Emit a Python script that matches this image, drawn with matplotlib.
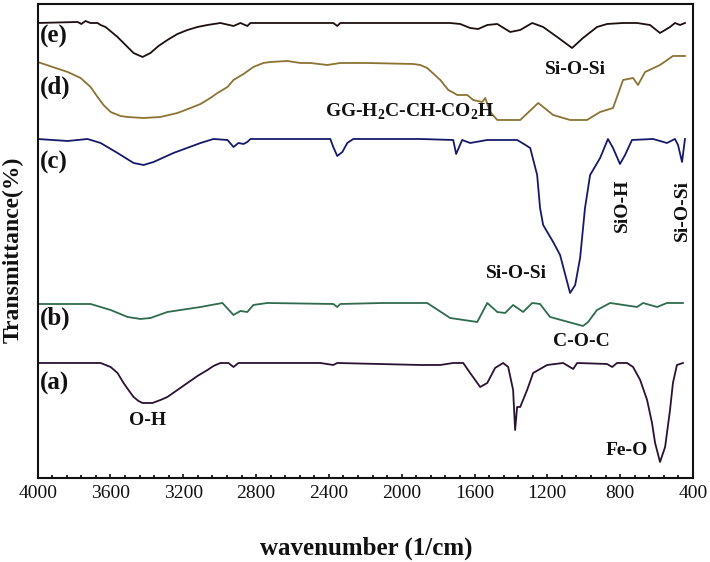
"""
FTIR spectra of the five samples, stacked (a)-(e).
"""

import numpy as np
import matplotlib
matplotlib.use('Agg')
import matplotlib.pyplot as plt
from matplotlib.ticker import MultipleLocator

# Colours
COL_A = '#2a1232'
COL_B = '#2f6b4f'
COL_C = '#16196a'
COL_D = '#8c7334'
COL_E = '#1e0f0f'
INK   = '#111111'

plt.rcParams['font.family'] = ['Liberation Serif', 'DejaVu Serif']
plt.rcParams['mathtext.fontset'] = 'custom'
plt.rcParams['mathtext.rm'] = 'Liberation Serif:bold'

# Spectra: wavenumber [1/cm] and transmittance [a.u., stacked]
wn_e = [4000, 3780, 3760, 3737, 3710, 3671, 3654, 3627, 3561, 3517, 3473, 3424,
        3380, 3336, 3287, 3232, 3177, 3122, 3067, 2996, 2924, 2886, 2848, 2831,
        2376, 2354, 2337, 1734, 1679, 1624, 1580, 1530, 1475, 1404, 1349, 1283,
        1223, 1146, 1064, 1004, 927, 872, 784, 707, 636, 581, 526, 499, 471, 444]
t_e = [455, 456, 454, 457, 455, 455, 453, 451, 441, 433, 425, 421,
       425, 432, 438, 444, 448, 451, 453, 455, 452, 455, 452, 455,
       455, 452, 455, 455, 454, 450, 449, 453, 454, 446, 448, 455,
       451, 441, 430, 440, 451, 454, 455, 455, 453, 445, 451, 455, 453, 455]

wn_d = [4000, 3835, 3764, 3709, 3671, 3638, 3599, 3545, 3506, 3418, 3325, 3232,
        3160, 3105, 3051, 3012, 2957, 2924, 2869, 2815, 2760, 2721, 2628, 2557,
        2502, 2409, 2338, 2189, 1937, 1898, 1860, 1788, 1744, 1723, 1695, 1640,
        1607, 1558, 1541, 1514, 1475, 1349, 1250, 1168, 1075, 982, 910, 839,
        784, 729, 702, 663, 581, 510, 444]
t_d = [416, 406, 400, 391, 381, 373, 366, 362, 361, 360, 361, 365,
       370, 374, 380, 385, 391, 398, 404, 411, 415, 416, 417, 415,
       415, 413, 415, 415, 414, 413, 410, 398, 388, 386, 383, 383,
       378, 376, 380, 366, 358, 358, 375, 363, 358, 358, 366, 370,
       398, 400, 393, 406, 413, 422, 422]

wn_c = [4000, 3835, 3726, 3654, 3561, 3473, 3418, 3363, 3254, 3105, 3034, 2957,
        2924, 2897, 2869, 2848, 2831, 2392, 2376, 2354, 2326, 2299, 2266, 1898,
        1717, 1701, 1668, 1624, 1530, 1366, 1338, 1294, 1256, 1240, 1223, 1168,
        1130, 1091, 1075, 1047, 1020, 993, 965, 910, 867, 839, 801, 773,
        735, 619, 543, 499, 482, 460, 444]
t_c = [339, 337, 339, 335, 325, 315, 313, 316, 325, 335, 339, 338,
       331, 335, 334, 336, 339, 339, 331, 322, 326, 335, 339, 339,
       338, 324, 338, 335, 338, 338, 335, 330, 303, 270, 253, 236,
       223, 196, 185, 193, 220, 270, 303, 320, 339, 330, 314, 323,
       338, 339, 335, 339, 333, 316, 339]

wn_b = [4000, 3709, 3599, 3506, 3435, 3380, 3287, 3105, 2985, 2924, 2886, 2848,
        2815, 2738, 2376, 2354, 2337, 2101, 1860, 1734, 1585, 1530, 1475, 1432,
        1388, 1333, 1283, 1240, 1185, 1004, 976, 927, 855, 707, 674, 597,
        543, 455]
t_b = [174, 174, 168, 161, 159, 160, 166, 171, 175, 163, 167, 166,
       173, 175, 174, 171, 174, 175, 175, 160, 156, 175, 166, 165,
       173, 166, 175, 174, 161, 152, 156, 168, 175, 171, 175, 171,
       175, 175]

wn_a = [4000, 3709, 3654, 3599, 3561, 3528, 3501, 3473, 3446, 3424, 3369, 3325,
        3287, 3232, 3177, 3122, 3067, 3034, 2996, 2952, 2924, 2897, 2447, 2376,
        2354, 1898, 1788, 1717, 1662, 1624, 1569, 1530, 1487, 1443, 1415, 1388,
        1377, 1366, 1349, 1311, 1278, 1201, 1113, 1058, 1036, 872, 844, 817,
        762, 729, 690, 652, 625, 608, 581, 553, 526, 510, 488, 455]
t_a = [115, 115, 115, 111, 105, 95, 88, 81, 77, 75, 75, 78,
       81, 88, 95, 102, 108, 112, 115, 115, 111, 115, 115, 113,
       115, 113, 113, 115, 115, 105, 91, 95, 110, 115, 111, 88,
       48, 71, 71, 88, 105, 113, 115, 109, 115, 114, 111, 115,
       115, 111, 98, 78, 55, 35, 16, 31, 68, 95, 113, 115]

# Curve tags and band assignments
tag_text = ['(e)', '(d)', '(c)', '(b)', '(a)']
tag_y = [442, 391, 316, 160, 95]

band_text = ['Si-O-Si', 'GG-H$_2$C-CH-CO$_2$H', 'Si-O-Si', 'SiO-H', 'Si-O-Si',
             'C-O-C', 'O-H', 'Fe-O']
band_x = [1047, 1958, 1371, 789, 460, 1014, 3396, 762]
band_y = [408, 366, 204, 273, 267, 136, 57, 27]
band_rot = [0, 0, 0, 90, 90, 0, 0, 0]


def style_ax(ax):
    for sp in ax.spines.values():
        sp.set_color(INK)
        sp.set_linewidth(1.5)
    ax.set_xlim(4000, 400)
    ax.set_ylim(0, 474)
    ax.xaxis.set_major_locator(MultipleLocator(400))
    ax.xaxis.set_minor_locator(MultipleLocator(80))
    ax.tick_params(axis='x', which='major', direction='in', length=3, width=1.2,
                   labelsize=14, pad=5, colors=INK, top=False)
    ax.tick_params(axis='x', which='minor', direction='in', length=2, width=1.2,
                   top=False)
    ax.set_yticks([])


def generate_plot():
    fig = plt.figure(figsize=(7.1, 5.62), dpi=100, facecolor='white')
    ax = fig.add_axes([0.053, 0.1495, 0.923, 0.8434])
    style_ax(ax)

    ax.plot(wn_e, t_e, color=COL_E, lw=1.3)
    ax.plot(wn_d, t_d, color=COL_D, lw=1.3)
    ax.plot(wn_c, t_c, color=COL_C, lw=1.3)
    ax.plot(wn_b, t_b, color=COL_B, lw=1.3)
    ax.plot(wn_a, t_a, color=COL_A, lw=1.3)

    for txt, y in zip(tag_text, tag_y):
        ax.text(3985, y, txt, ha='left', va='center', fontsize=18,
                fontweight='bold', color=INK)

    for txt, x, y, r in zip(band_text, band_x, band_y, band_rot):
        ax.text(x, y, txt, ha='center', va='center', rotation=r, fontsize=14,
                fontweight='bold', color=INK)

    fig.text(0.5155, 0.025, 'wavenumber (1/cm)', ha='center', va='center',
             fontsize=18, fontweight='bold', color=INK)
    fig.text(0.0183, 0.555, 'Transmittance(%)', ha='center', va='center',
             rotation=90, fontsize=17, fontweight='bold', color=INK)

    fig.savefig('out.png', dpi=100, facecolor='white')
    plt.close(fig)


if __name__ == '__main__':
    generate_plot()
